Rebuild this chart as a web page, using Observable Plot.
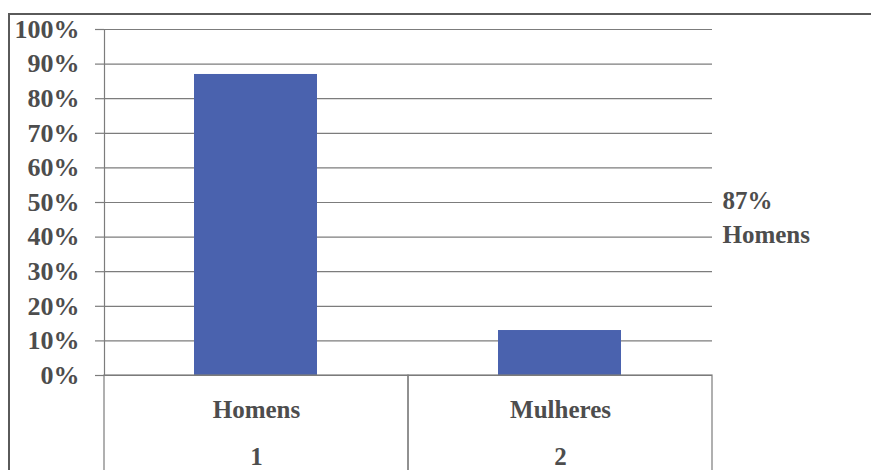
<!DOCTYPE html>
<html>
<head>
<meta charset="utf-8">
<script src="https://cdn.jsdelivr.net/npm/d3@7"></script>
<script src="https://cdn.jsdelivr.net/npm/@observablehq/plot@0.6"></script>
<style>
  html, body { margin: 0; padding: 0; background: #fff; }
  #wrap { position: relative; width: 871px; height: 470px; overflow: hidden; }
  #border { position: absolute; left: 8px; top: 13px; width: 900px; height: 500px;
            border-top: 2px solid #5a5a5a; border-left: 2px solid #5a5a5a; pointer-events: none; }
</style>
</head>
<body>
<div id="wrap"><div id="border"></div></div>
<script>
const categories = ["Homens", "Mulheres"];
const indices = ["1", "2"];
const values = [0.87, 0.13];
const yTicks = [0, 0.1, 0.2, 0.3, 0.4, 0.5, 0.6, 0.7, 0.8, 0.9, 1.0];
const noteLines = ["87%", "Homens"];
const noteYs = [0.5, 0.4];

const data = categories.map((c, i) => ({category: c, index: indices[i], value: values[i]}));
const notes = noteLines.map((t, i) => ({text: t, y: noteYs[i]}));

const font = "'Liberation Serif', serif";
const textColor = "#4d4d4d";
const lineColor = "#7c7c7c";
const fs = 25;
const chart = Plot.plot({
  width: 871,
  height: 470,
  marginLeft: 104,
  marginRight: 159,
  marginTop: 29,
  marginBottom: 95,
  style: {fontFamily: font, background: "transparent", overflow: "visible"},
  x: {domain: categories, padding: 0, axis: null},
  y: {domain: [0, 1], axis: null},
  marks: [
    Plot.gridY(yTicks, {stroke: lineColor, strokeOpacity: 1, strokeWidth: 1.2}),
    Plot.axisY(yTicks, {tickSize: 9, tickPadding: 16, stroke: lineColor, strokeWidth: 1.2,
      tickFormat: d => Math.round(d * 100) + "%",
      fontSize: 26, fontWeight: "bold", fill: textColor}),
    Plot.frame({anchor: "left", stroke: lineColor, strokeWidth: 1.2}),
    Plot.barY(data, {x: "category", y: "value", fill: "#4a62ae", insetLeft: 90, insetRight: 91}),
    Plot.rect(data, {x: "category", y1: 0, y2: -0.28, fill: "none", stroke: lineColor, strokeWidth: 1.2, clip: false}),
    Plot.text(data, {x: "category", y: 0, dy: 34, text: "category", fontSize: fs, fontWeight: "bold", fill: textColor}),
    Plot.text(data, {x: "category", y: 0, dy: 81, text: "index", fontSize: fs, fontWeight: "bold", fill: textColor}),
    Plot.text(notes, {frameAnchor: "right", y: "y", text: "text", dx: 10, dy: -2, textAnchor: "start", fontSize: fs, fontWeight: "bold", fill: textColor})
  ]
});
document.getElementById("wrap").prepend(chart);
</script>
</body>
</html>
